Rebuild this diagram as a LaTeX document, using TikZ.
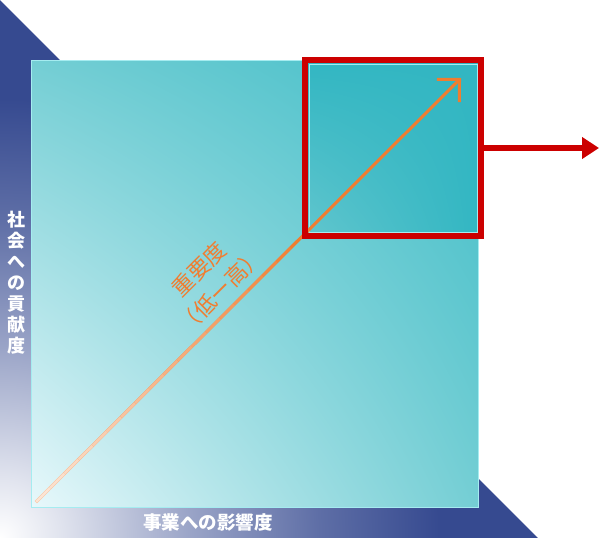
\documentclass[tikz,border=0pt]{standalone}
\usepackage{fontspec}
\usepackage{color}
\usepackage{tikz}
\usetikzlibrary{arrows.meta,shadings,calc}
\newfontfamily\jpfont{Noto Sans CJK JP}
\definecolor{axisblue}{RGB}{54,74,144}
\definecolor{boxred}{RGB}{204,0,0}
\definecolor{arroworange}{RGB}{240,125,48}
\definecolor{peach}{RGB}{252,228,212}
\definecolor{palecyan}{RGB}{232,248,251}
\definecolor{sqteal}{RGB}{116,206,212}
\definecolor{sqdeep}{RGB}{66,190,200}
\definecolor{boxteal}{RGB}{50,182,194}
\definecolor{boxlight}{RGB}{98,198,206}
\definecolor{rimcyan}{RGB}{165,236,240}
\pgfdeclareradialshading{cornerglow}{\pgfpoint{0bp}{0bp}}{color(0bp)=(white); color(2.5bp)=(axisblue!15); color(7.9bp)=(axisblue!50); color(13.3bp)=(axisblue!80); color(18.3bp)=(axisblue); color(50bp)=(axisblue)}

\begin{document}
\begin{tikzpicture}[x=1pt,y=-1pt]
    \useasboundingbox (0,0) rectangle (600,538);
    \begin{scope}
        \clip (0,0) -- (538,538) -- (0,538) -- cycle;
        \shade [shading=cornerglow] (0,538) circle (600pt);
    \end{scope}
    \shadedraw [lower left=palecyan, upper left=sqteal, lower right=sqteal, upper right=sqdeep, draw=rimcyan, line width=1pt] (31,60) rectangle (478,507);
    \shade [lower left=boxlight, upper left=boxteal, lower right=boxteal, upper right=boxteal] (305,60) rectangle (481,236);
    \draw [rimcyan, line width=0.8pt] (309,64) rectangle (477,232);
    \coordinate (low) at (36,502);
    \coordinate (high) at (461,78);
    \draw [arroworange, line width=3pt, -{Straight Barb[length=16pt,width=32pt]}] (low) -- (high);
    \foreach \k [evaluate=\k as \pc using {int(min(100,100*\k/18))}] in {0,...,18}
        \draw [arroworange!\pc!peach, line width=3pt] ($(low)!\k/30!(high)$) -- ($(low)!\k/30+1/30!(high)$);
    \node [draw=boxred, line width=6.5pt, minimum size=176pt, inner sep=0pt, outer sep=0pt] (focus) at (393,148) {};
    \coordinate (out) at (599,148);
    \draw [boxred, line width=6pt, -{Triangle[length=17pt,width=21pt]}] (focus.east) -- (out);
    \node [white, align=center, font=\jpfont\bfseries\fontsize{18}{21}\selectfont] (social) at (16,283) {社\\会\\へ\\の\\貢\\献\\度};
    \node [white, font=\jpfont\bfseries\fontsize{18.5}{20}\selectfont] (business) at (208,522) {事業への影響度};
    \node [arroworange, rotate=45, align=center, font=\jpfont\fontsize{22}{30}\selectfont] (rank) at (210,280) {重要度\\（低ー高）};
\end{tikzpicture}
\end{document}
